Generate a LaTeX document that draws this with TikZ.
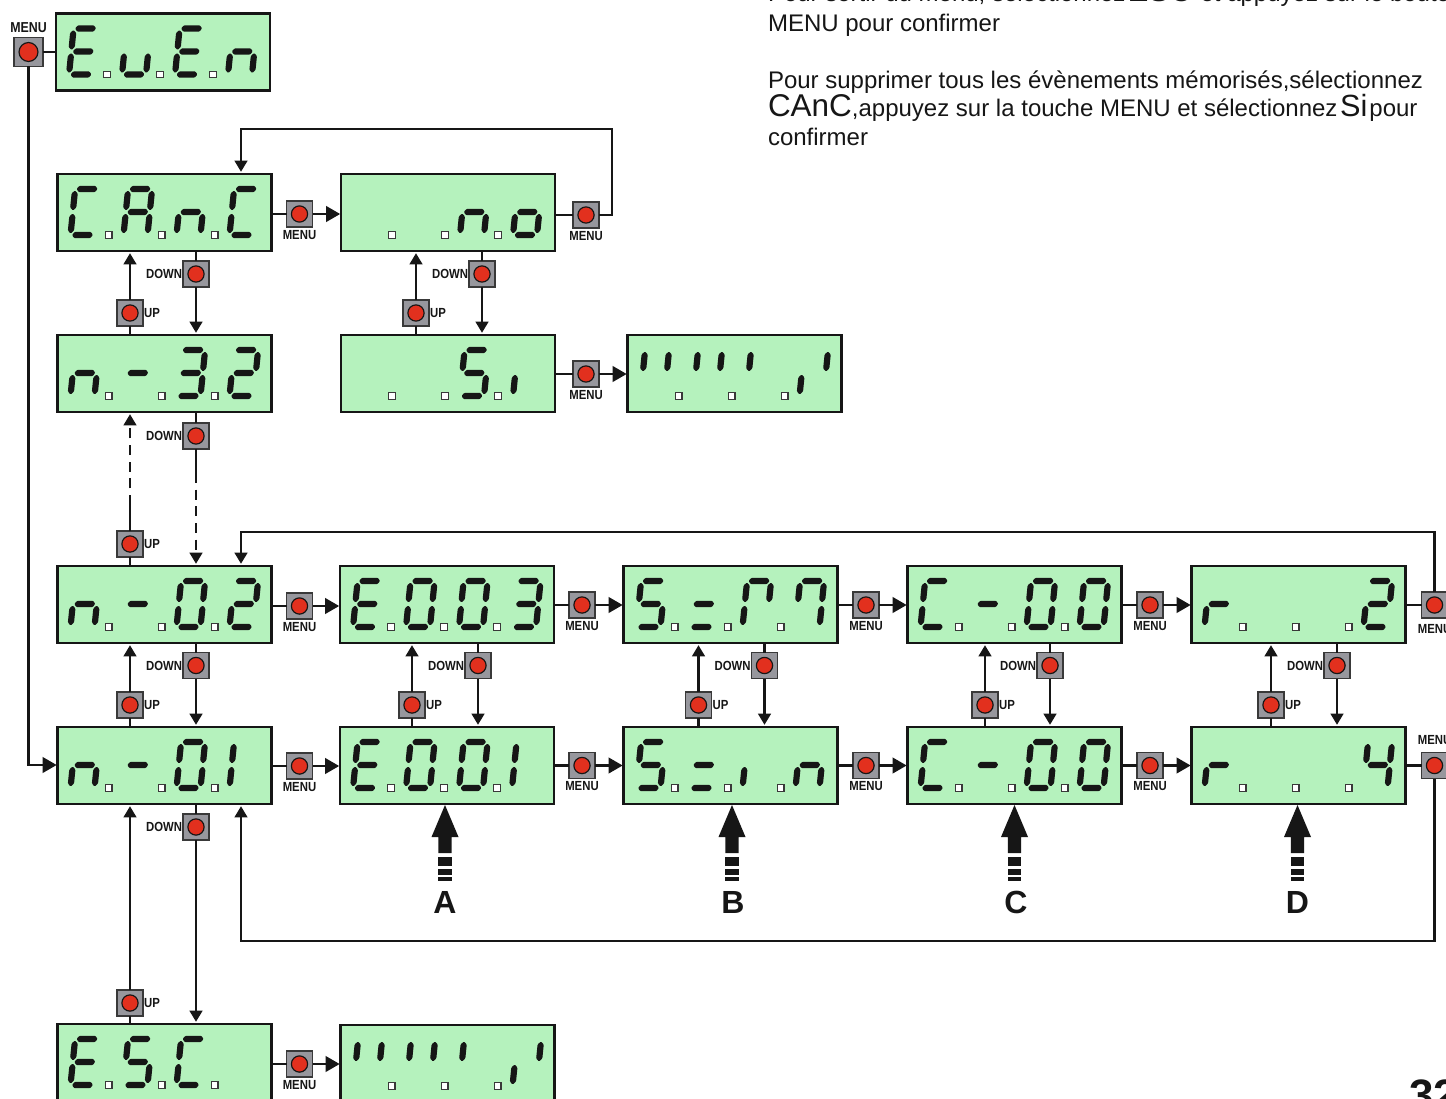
\documentclass[tikz,border=0pt]{standalone}
\usepackage{fontspec}
\setmainfont{Liberation Sans}
\newfontfamily\narrowfont[FakeStretch=0.86]{Liberation Sans}
\usetikzlibrary{arrows.meta,calc}
\definecolor{lcdgreen}{HTML}{B5F2BD}
\definecolor{ink}{HTML}{161616}
\definecolor{btngray}{HTML}{97979D}
\definecolor{btnred}{HTML}{E2301E}
\tikzset{
  lcdbox/.style={draw=ink,fill=lcdgreen,line width=1.9pt,anchor=north west,minimum width=160.5pt,minimum height=57.75pt,inner sep=0pt,outer sep=0pt},
  seg/.style={fill=ink,rounded corners=.7pt},
  dotbox/.style={draw=ink!85,fill=white,line width=.8pt},
  btn/.style={draw=ink!85,fill=btngray,line width=1.1pt,minimum size=19.5pt,inner sep=0pt,outer sep=0pt,
    path picture={\filldraw[draw=ink,fill=btnred,line width=.9pt] (path picture bounding box.center) circle (6.1pt);}},
  btnbig/.style={btn,minimum size=21.5pt,
    path picture={\filldraw[draw=ink,fill=btnred,line width=.9pt] (path picture bounding box.center) circle (7.1pt);}},
  lbl/.style={font=\narrowfont\bfseries\fontsize{9.9}{10}\selectfont,text=ink,inner sep=0pt,outer sep=0pt},
  wire/.style={draw=ink,line width=2pt},
  harrow/.style={wire,-{Triangle[length=10.5pt,width=11.5pt]},shorten >=.6pt},
  varrow/.style={wire,-{Triangle[length=8.5pt,width=9.5pt]},shorten >=1.6pt},
  para/.style={anchor=base west,inner sep=0pt,outer sep=0pt,text=ink,font=\fontsize{18}{20}\selectfont},
  bigletter/.style={font=\bfseries\fontsize{24}{26}\selectfont,text=ink,anchor=base,inner sep=0pt},
}
% seven segments in local digit coordinates (origin at bottom segment, y up)
\def\lcdsa{\fill[seg] (4.5,46)--(7,49.2)--(23,49.2)--(25.5,46)--(23,42.8)--(7,42.8)--cycle;}
\def\lcdsg{\fill[seg] (4.5,23)--(7,26.2)--(23,26.2)--(25.5,23)--(23,19.8)--(7,19.8)--cycle;}
\def\lcdsd{\fill[seg] (4.5,0)--(7,3.2)--(23,3.2)--(25.5,0)--(23,-3.2)--(7,-3.2)--cycle;}
\def\lcdsf{\fill[seg] (3,44.5)--(6.1,41.5)--(6.1,27.5)--(3,24.5)--(-.1,27.5)--(-.1,41.5)--cycle;}
\def\lcdse{\fill[seg] (3,21.5)--(6.1,18.5)--(6.1,4.5)--(3,1.5)--(-.1,4.5)--(-.1,18.5)--cycle;}
\def\lcdsb{\fill[seg] (27,44.5)--(30.1,41.5)--(30.1,27.5)--(27,24.5)--(23.9,27.5)--(23.9,41.5)--cycle;}
\def\lcdsc{\fill[seg] (27,21.5)--(30.1,18.5)--(30.1,4.5)--(27,1.5)--(23.9,4.5)--(23.9,18.5)--cycle;}
\newcommand\lcddigit[2]{\begin{scope}[shift={({53*#1},0)}]\foreach \q in {#2}{\csname lcds\q\endcsname}\end{scope}}
\newcommand\lcd[7]{%
  \node[lcdbox] (#1) at (#2,#3) {};
  \begin{scope}[shift={(#2+10,#3+61)},x=.75pt,y={(.075pt,.75pt)}]
    \lcddigit{0}{#4}\lcddigit{1}{#5}\lcddigit{2}{#6}\lcddigit{3}{#7}
    \foreach \i in {0,1,2}{\draw[dotbox] ({53*\i+38},-3.1) rectangle ({53*\i+44.2},3.1);}
  \end{scope}}
\newcommand\hconn[3]{\draw[wire] (#2 -| #1.east) -- (#2);\draw[harrow] (#2) -- (#2 -| #3.west);}
\newcommand\vup[3]{\draw[wire] (#2 |- #1.north) -- (#2);\draw[varrow] (#2) -- (#2 |- #3.south);}
\newcommand\vdown[3]{\draw[wire] (#2 |- #1.south) -- (#2);\draw[varrow] (#2) -- (#2 |- #3.north);}
\newcommand\bigarrow[3]{%
  \fill[ink] (#1,805)--(#1+13.5,837)--(#1+6.7,837)--(#1+6.7,853)--(#1-6.7,853)--(#1-6.7,837)--(#1-13.5,837)--cycle;
  \fill[ink] (#1-6.7,857) rectangle (#1+6.7,866);
  \fill[ink] (#1-6.7,869) rectangle (#1+6.7,875);
  \fill[ink] (#1-6.7,877) rectangle (#1+6.7,881);
  \node[bigletter] (#2) at (#3,913) {#2};}
\begin{document}
\begin{tikzpicture}[x=.75pt,y=-.75pt]
\useasboundingbox (0,0) rectangle (1446,1099);
\clip (0,0) rectangle (1446,1099);
\fill[white] (0,0) rectangle (1446,1099);
% text block
\node[para] (t1) at (768,2) {Pour sortir du menu, sélectionnez\hspace{1.5pt}{\fontsize{23.5}{26}\selectfont ESC}\hspace{1.5pt} et appuyez sur le bouton};
\node[para] (t2) at (768,31.5) {MENU pour confirmer};
\node[para] (t3) at (768,89) {Pour supprimer tous les évènements mémorisés,sélectionnez};
\node[para] (t4) at (768,116.5) {{\fontsize{23.6}{26}\selectfont CAnC},appuyez sur la touche MENU et sélectionnez\hspace{2pt}{\fontsize{23}{26}\selectfont Si}\hspace{1.5pt}pour};
\node[para] (t5) at (768,146) {confirmer};
% displays
\lcd{even}{56}{13.5}{a,d,e,f,g}{c,d,e}{a,d,e,f,g}{c,e,g}
\lcd{canc}{57.5}{174}{a,d,e,f}{a,b,c,e,f,g}{c,e,g}{a,d,e,f}
\lcd{no}{341}{174}{}{}{c,e,g}{c,d,e,g}
\lcd{n32}{57.5}{335}{c,e,g}{g}{a,b,c,d,g}{a,b,d,e,g}
\lcd{si}{341}{335}{}{}{a,c,d,f,g}{e}
\lcd{okone}{627.5}{335}{b,f}{b,f}{f}{b,e}
\lcd{n02}{57.5}{566}{c,e,g}{g}{a,b,c,d,e,f}{a,b,d,e,g}
\lcd{eoo3}{340}{566}{a,d,e,f,g}{a,b,c,d,e,f}{a,b,c,d,e,f}{a,b,c,d,g}
\lcd{sr7}{623.5}{566}{a,c,d,f,g}{d,g}{a,b,e,f}{a,b,c,f}
\lcd{coo}{907.5}{566}{a,d,e,f}{g}{a,b,c,d,e,f}{a,b,c,d,e,f}
\lcd{rtwo}{1191.5}{566}{e,g}{}{}{a,b,d,e,g}
\lcd{n01}{57.5}{727}{c,e,g}{g}{a,b,c,d,e,f}{e,f}
\lcd{eoo1}{340}{727}{a,d,e,f,g}{a,b,c,d,e,f}{a,b,c,d,e,f}{e,f}
\lcd{sin}{623.5}{727}{a,c,d,f,g}{d,g}{e}{c,e,g}
\lcd{coob}{907.5}{727}{a,d,e,f}{g}{a,b,c,d,e,f}{a,b,c,d,e,f}
\lcd{rfour}{1191.5}{727}{e,g}{}{}{b,c,f,g}
\lcd{esc}{57.5}{1024}{a,d,e,f,g}{a,c,d,f,g}{a,d,e,f}{}
\lcd{oktwo}{340.5}{1025}{b,f}{b,f}{f}{b,e}
% buttons
\tikzset{menubelow/.style={label={[lbl,label distance=2.4pt]below:MENU}},
  downleft/.style={label={[lbl,label distance=.7pt]left:DOWN}},
  upright/.style={label={[lbl,label distance=.9pt]right:UP}}}
\node[btnbig,label={[lbl,label distance=4pt,font=\narrowfont\bfseries\fontsize{10.8}{11}\selectfont]above:MENU}] (btop) at (28.5,52) {};
\node[btn,menubelow] (m1) at (299.5,214) {};
\node[btn,menubelow] (m2) at (586,215) {};
\node[btn,menubelow] (m3) at (586,374) {};
\node[btn,downleft] (d1) at (196,274) {};
\node[btn,upright] (u1) at (130,313) {};
\node[btn,downleft] (d2) at (482,274) {};
\node[btn,upright] (u2) at (416,313) {};
\node[btn,downleft] (d3) at (196,436) {};
\node[btn,upright] (u3) at (130,544) {};
\node[btn,menubelow] (m4) at (299.5,606) {};
\node[btn,menubelow] (m5) at (582,605) {};
\node[btn,menubelow] (m6) at (866,605) {};
\node[btn,menubelow] (m7) at (1150,605) {};
\node[btn,label={[lbl,label distance=5pt]below:MENU}] (m8) at (1434.5,605) {};
\node[btn,menubelow] (m9) at (299.5,766) {};
\node[btn,menubelow] (m10) at (582,765.5) {};
\node[btn,menubelow] (m11) at (866,765.5) {};
\node[btn,menubelow] (m12) at (1150,765.5) {};
\node[btn,label={[lbl,label distance=6pt]above:MENU}] (m13) at (1434.5,765.5) {};
\node[btn,downleft] (d4) at (196,665.5) {};
\node[btn,upright] (u4) at (130,705) {};
\node[btn,downleft] (d5) at (478,665.5) {};
\node[btn,upright] (u5) at (412,705) {};
\node[btn,downleft] (d6) at (764.5,665.5) {};
\node[btn,upright] (u6) at (698.5,705) {};
\node[btn,downleft] (d7) at (1050,665.5) {};
\node[btn,upright] (u7) at (985,705) {};
\node[btn,downleft] (d8) at (1337,665.5) {};
\node[btn,upright] (u8) at (1271,705) {};
\node[btn,downleft] (d9) at (196,827) {};
\node[btn,upright] (u9) at (130,1003) {};
\node[btn,menubelow] (m14) at (299.5,1064) {};
% helper coordinates
\coordinate (leftrail) at (28.5,765);
\coordinate (loopa) at (612,129);
\coordinate (loopb) at (241,129);
\coordinate (loopc) at (1434.5,532);
\coordinate (loopd) at (241,532);
\coordinate (loope) at (1434.5,941);
\coordinate (loopf) at (241,941);
\coordinate (dashup) at (0,505);
\coordinate (dashdown) at (0,473);
% connectors
\draw[wire] (btop) -- (btop -| even.west);
\draw[harrow] (btop) -- (leftrail) -- (leftrail -| n01.west);
\hconn{canc}{m1}{no}
\draw[wire] (m2 -| no.east) -- (m2);
\draw[varrow] (m2) -- (m2 -| loopa) -- (loopa) -- (loopb) -- (loopb |- canc.north);
\vdown{canc}{d1}{n32}\vup{n32}{u1}{canc}
\vdown{no}{d2}{si}\vup{si}{u2}{no}
\hconn{si}{m3}{okone}
% dashed link n-3.2 / n-0.2
\draw[wire] (d3 |- n32.south) -- (d3);
\draw[wire] (d3) -- (d3 |- dashdown);
\draw[varrow,dash pattern=on 7.5pt off 5pt] (d3 |- dashdown) -- (d3 |- n02.north);
\draw[wire] (u3 |- n02.north) -- (u3);
\draw[wire] (u3) -- (u3 |- dashup);
\draw[varrow,dash pattern=on 7.5pt off 5pt] (u3 |- dashup) -- (u3 |- n32.south);
\hconn{n02}{m4}{eoo3}\hconn{eoo3}{m5}{sr7}\hconn{sr7}{m6}{coo}\hconn{coo}{m7}{rtwo}
\draw[wire] (m8 -| rtwo.east) -- (m8);
\draw[varrow] (m8) -- (loopc) -- (loopd) -- (loopd |- n02.north);
\hconn{n01}{m9}{eoo1}\hconn{eoo1}{m10}{sin}\hconn{sin}{m11}{coob}\hconn{coob}{m12}{rfour}
\draw[wire] (m13 -| rfour.east) -- (m13);
\draw[varrow] (m13) -- (loope) -- (loopf) -- (loopf |- n01.south);
\vdown{n02}{d4}{n01}\vup{n01}{u4}{n02}
\vdown{eoo3}{d5}{eoo1}\vup{eoo1}{u5}{eoo3}
\vdown{sr7}{d6}{sin}\vup{sin}{u6}{sr7}
\vdown{coo}{d7}{coob}\vup{coob}{u7}{coo}
\vdown{rtwo}{d8}{rfour}\vup{rfour}{u8}{rtwo}
\vdown{n01}{d9}{esc}\vup{esc}{u9}{n01}
\hconn{esc}{m14}{oktwo}
% big arrows
\bigarrow{445}{A}{445}
\bigarrow{732}{B}{733}
\bigarrow{1014.5}{C}{1016}
\bigarrow{1297.5}{D}{1297.5}
% page number
\node[anchor=base west,inner sep=0pt,font=\bfseries\fontsize{33}{34}\selectfont,text=ink] (page) at (1409,1110) {32};
\end{tikzpicture}
\end{document}
